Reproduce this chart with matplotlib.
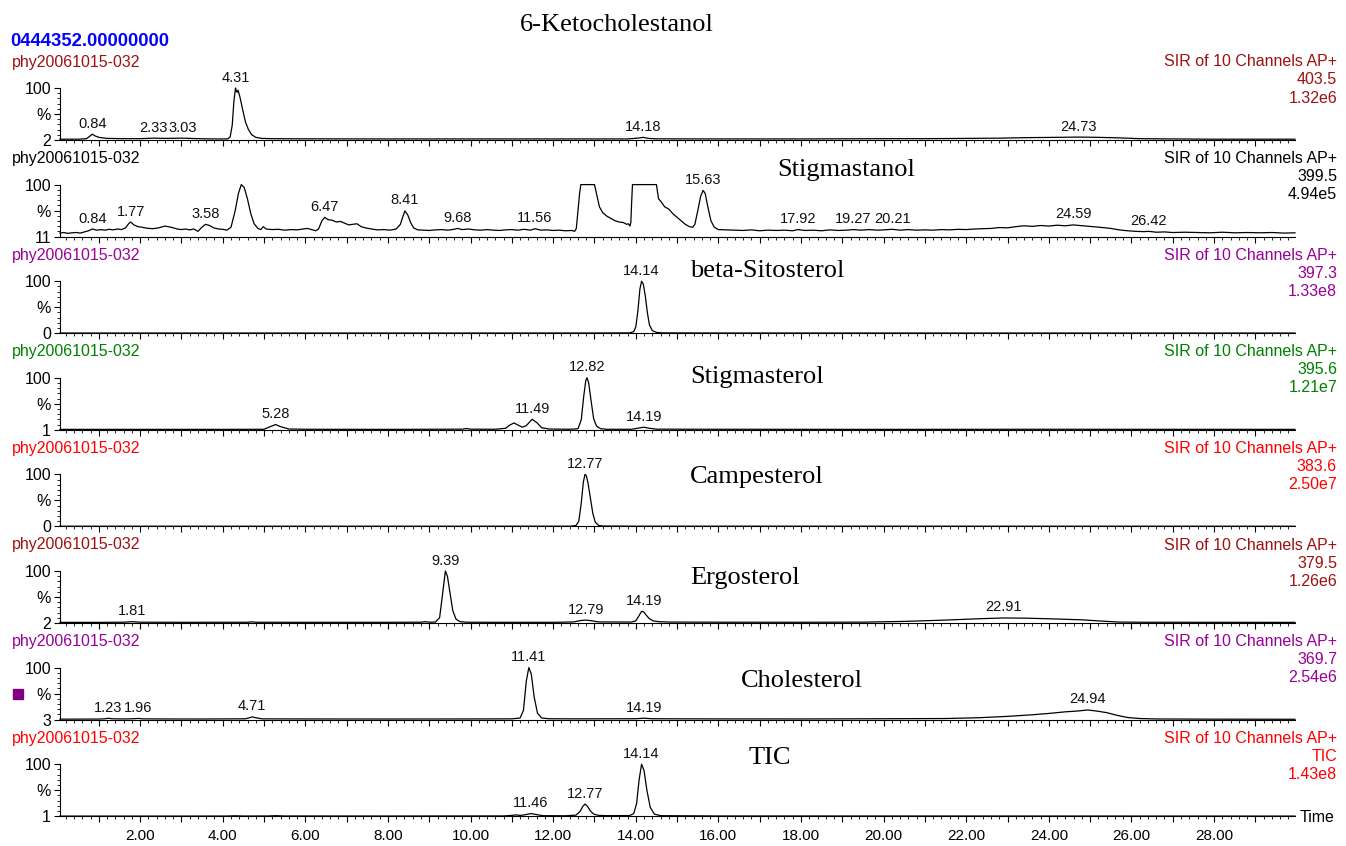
import numpy as np
import matplotlib.pyplot as plt
from matplotlib.ticker import MultipleLocator, FixedLocator, FuncFormatter
from matplotlib.patches import Rectangle

plt.rcParams['font.family'] = ['Liberation Sans', 'DejaVu Sans']

# panel info
compounds = ['6-Ketocholestanol', 'Stigmastanol', 'beta-Sitosterol', 'Stigmasterol',
             'Campesterol', 'Ergosterol', 'Cholesterol', 'TIC']
channels = ['403.5', '399.5', '397.3', '395.6', '383.6', '379.5', '369.7', 'TIC']
intensities = ['1.32e6', '4.94e5', '1.33e8', '1.21e7', '2.50e7', '1.26e6', '2.54e6', '1.43e8']
y_floor = [2, 11, 0, 1, 0, 2, 3, 1]
sample_name = 'phy20061015-032'
func_name = 'SIR of 10 Channels AP+'
header = '0444352.00000000'

# traces (time in min, relative intensity in %)
t1 = [0.06, 0.5, 0.7, 0.78, 0.84, 0.9, 1.0, 1.2, 1.6, 2.0, 2.33, 2.6, 3.03, 3.4, 3.8, 4.12,
      4.18, 4.23, 4.27, 4.31, 4.33, 4.35, 4.37, 4.42, 4.48, 4.55, 4.62, 4.7, 4.8, 4.95, 5.2,
      6.0, 8.0, 10.0, 12.0, 13.8, 14.05, 14.18, 14.3, 14.5, 16.0, 18.0, 20.0, 21.0, 22.0,
      22.8, 23.5, 24.2, 24.73, 25.2, 25.7, 26.2, 27.0, 28.0, 29.96]
v1 = [3.5, 3.5, 4.5, 9, 13, 10, 7, 5, 4.5, 4.5, 5.5, 5, 5.5, 4.5, 4, 4,
      8, 30, 75, 100, 94, 92, 96, 82, 60, 36, 22, 12, 7, 5, 4.5,
      4.2, 4, 4, 4, 4, 5.5, 7, 5, 4.2, 4, 4, 4.5, 4.5, 5,
      5.5, 6.5, 7, 7.5, 7, 6, 4.5, 4, 3.5, 3.5]

t2 = [0.06, 0.15, 0.25, 0.35, 0.45, 0.55, 0.65, 0.75, 0.84, 0.95, 1.05, 1.15, 1.25, 1.35,
      1.45, 1.55, 1.65, 1.72, 1.77, 1.85, 1.95, 2.05, 2.15, 2.3, 2.45, 2.6, 2.75, 2.9, 3.0,
      3.1, 3.2, 3.3, 3.4, 3.48, 3.58, 3.68, 3.78, 3.9, 4.0, 4.1, 4.2, 4.3, 4.38, 4.45, 4.52,
      4.6, 4.68, 4.76, 4.85, 4.92, 4.98, 5.05, 5.2, 5.35, 5.5, 5.65, 5.8, 5.95, 6.05, 6.15,
      6.25, 6.32, 6.4, 6.47, 6.55, 6.65, 6.75, 6.85, 6.95, 7.05, 7.15, 7.25, 7.35, 7.45,
      7.6, 7.75, 7.9, 8.05, 8.2, 8.3, 8.36, 8.41, 8.48, 8.55, 8.62, 8.72, 8.85, 9.0, 9.15,
      9.3, 9.45, 9.6, 9.68, 9.8, 9.95, 10.1, 10.25, 10.4, 10.55, 10.7, 10.85, 11.0, 11.15,
      11.3, 11.45, 11.56, 11.7, 11.85, 12.0, 12.15, 12.3, 12.45, 12.52, 12.56, 12.6, 12.64,
      12.67, 13.0, 13.05, 13.12, 13.2, 13.3, 13.4, 13.5, 13.6, 13.7, 13.78, 13.82, 13.86,
      13.88, 13.9, 13.92, 14.5, 14.55, 14.62, 14.7, 14.8, 14.9, 15.0, 15.1, 15.2, 15.3,
      15.38, 15.43, 15.5, 15.57, 15.63, 15.68, 15.75, 15.82, 15.9, 16.0, 16.2, 16.4, 16.6,
      16.8, 17.0, 17.2, 17.4, 17.6, 17.8, 17.92, 18.1, 18.3, 18.5, 18.7, 18.9, 19.1, 19.27,
      19.45, 19.65, 19.85, 20.0, 20.21, 20.4, 20.6, 20.8, 21.0, 21.2, 21.4, 21.6, 21.8,
      22.0, 22.2, 22.4, 22.6, 22.8, 23.0, 23.2, 23.4, 23.6, 23.8, 24.0, 24.2, 24.4, 24.59,
      24.75, 24.9, 25.1, 25.3, 25.5, 25.7, 25.9, 26.1, 26.3, 26.42, 26.6, 26.8, 27.0, 27.3,
      27.6, 27.9, 28.2, 28.5, 28.8, 29.1, 29.4, 29.7, 29.96]
v2 = [17, 18, 16.5, 17.5, 18, 17, 19, 21, 24, 22, 23, 22, 23.5, 22.5,
      24, 23, 26, 33, 36, 31, 28, 27, 25.5, 24.5, 26, 29, 27, 24, 23,
      24, 22.5, 24, 20, 26, 32, 30, 26, 24, 23.5, 22, 27, 55, 85, 100, 95,
      75, 50, 33, 25, 23, 28, 24, 23, 23.5, 22, 23, 22.5, 24, 25, 23,
      21, 24, 38, 44, 40, 39, 36, 37, 34, 31, 32, 33, 28, 26,
      24, 22.5, 23, 22, 24, 32, 45, 55, 48, 35, 26, 22.5, 22, 21.5, 22.5,
      23, 22, 23.5, 25, 23, 24, 22.5, 22, 23, 22, 21.5, 22.5, 23, 22,
      23.5, 22, 24.5, 22, 22.5, 21.5, 22, 21, 21.5, 20, 25, 55, 85,
      100, 100, 84, 62, 52, 46, 42, 38, 36, 35, 32, 33, 29,
      35, 70, 100, 100, 76, 70, 62, 58, 50, 44, 38, 32, 28,
      27, 32, 55, 80, 90, 85, 60, 38, 27, 23, 22.5, 22, 21.5,
      22.5, 21, 22, 21.5, 22, 21, 23, 21.5, 22, 21, 22.5, 21.5, 22, 23,
      22, 23, 22, 22.5, 23.5, 22, 23, 22, 22.5, 22, 23, 22.5, 23.5,
      23, 24, 24.5, 25, 26.5, 26, 28, 29.5, 28.5, 30, 29, 30.5, 29.5, 31,
      30, 29, 28, 26.5, 25, 22.5, 21, 20, 19.5, 20, 18.5, 19, 18, 18.5,
      18, 17.5, 18.5, 17.5, 18, 17.5, 18, 17, 17.5]

t3 = [0.06, 5, 10, 13.0, 13.85, 13.95, 14.0, 14.05, 14.1, 14.14, 14.18, 14.23, 14.28, 14.33,
      14.4, 14.5, 14.65, 16, 22, 29.96]
v3 = [0.3, 0.3, 0.3, 0.4, 0.6, 3, 12, 42, 85, 100, 95, 72, 40, 16,
      5, 1.5, 0.6, 0.4, 0.3, 0.3]

t4 = [0.06, 2, 4, 5.0, 5.15, 5.28, 5.4, 5.6, 6, 8, 9.8, 9.9, 10.0, 10.6, 10.85, 10.95, 11.05,
      11.15, 11.25, 11.35, 11.49, 11.6, 11.72, 11.9, 12.4, 12.6, 12.68, 12.74, 12.79, 12.82,
      12.86, 12.92, 12.98, 13.05, 13.15, 13.3, 13.9, 14.05, 14.19, 14.32, 14.5, 16, 20, 24, 29.96]
v4 = [1.8, 1.8, 1.8, 2, 7, 11, 7, 2.5, 2, 1.8, 2.2, 3.5, 2.2, 2, 4, 10, 14,
      10, 6, 9, 21, 15, 5, 2.5, 2, 3, 20, 65, 95, 100,
      90, 55, 22, 8, 3, 2, 2, 4, 6, 4, 2.2, 2, 1.8, 2, 1.8]

t5 = [0.06, 8, 12.4, 12.55, 12.62, 12.68, 12.73, 12.77, 12.8, 12.84, 12.9, 12.96, 13.02, 13.1,
      13.2, 14, 29.96]
v5 = [0.3, 0.3, 0.4, 1.5, 10, 45, 85, 100, 98, 85, 55, 25, 8, 2,
      0.7, 0.4, 0.3]

t6 = [0.06, 1.0, 1.6, 1.81, 2.0, 3.0, 4.6, 4.7, 4.8, 6, 8.0, 8.8, 8.9, 9.0, 9.15, 9.25, 9.32,
      9.39, 9.44, 9.5, 9.57, 9.65, 9.75, 9.9, 10.5, 12.0, 12.5, 12.65, 12.79, 12.95, 13.1, 13.9,
      14.0, 14.08, 14.14, 14.19, 14.25, 14.33, 14.42, 14.55, 14.8, 16, 18, 19.5, 20.5, 21.5,
      22.3, 22.91, 23.5, 24.2, 24.8, 25.3, 25.7, 26.3, 28, 29.96]
v6 = [3.2, 3.2, 3.5, 4.5, 3.5, 3.3, 3.4, 4.2, 3.4, 3.3, 3.3, 3.5, 4.5, 3.5, 3.8, 12, 55,
      100, 90, 60, 25, 9, 4.5, 3.5, 3.3, 3.3, 4, 6.5, 7.5, 6, 4, 3.8,
      6, 16, 24, 23, 17, 10, 6, 4.5, 3.8, 3.5, 3.4, 3.6, 5, 7.5,
      10, 11.5, 11, 9.5, 8, 5.5, 3.8, 3.4, 3.3, 3.2]

t7 = [0.06, 1.0, 1.15, 1.23, 1.32, 1.6, 1.85, 1.96, 2.05, 2.5, 3.5, 4.55, 4.65, 4.71, 4.8,
      4.95, 6, 8, 10, 11.0, 11.2, 11.28, 11.35, 11.41, 11.47, 11.54, 11.62, 11.72, 11.9, 12.5,
      14.0, 14.19, 14.4, 16, 18, 20, 21.5, 22.3, 23.0, 23.6, 24.0, 24.4, 24.7, 24.94, 25.15,
      25.4, 25.65, 25.9, 26.2, 26.6, 28, 29.96]
v7 = [3.8, 4, 4.5, 5.5, 4.5, 4.2, 4.6, 5.2, 4.4, 4.2, 4.1, 4.5, 6.5, 8, 6.5,
      4.4, 4.2, 4.1, 4.2, 4.4, 6, 20, 75, 100, 88, 45, 15, 6, 4.6, 4.4,
      4.6, 5.6, 4.6, 4.3, 4.2, 4.6, 5, 6.5, 9, 12, 14.5, 17.5, 19, 21, 19,
      16, 11, 7, 5, 4.2, 3.8, 3.6]

t8 = [0.06, 3, 4.1, 4.3, 4.5, 5.1, 5.28, 5.5, 8, 10.8, 11.0, 11.1, 11.2, 11.3, 11.46, 11.6,
      11.75, 12.3, 12.55, 12.65, 12.72, 12.77, 12.83, 12.9, 12.98, 13.1, 13.3, 13.85, 13.95,
      14.02, 14.08, 14.14, 14.2, 14.27, 14.35, 14.45, 14.6, 16, 29.96]
v8 = [1.2, 1.2, 1.3, 1.8, 1.3, 1.4, 2, 1.4, 1.3, 1.5, 2.5, 3.5, 2.5, 3.5, 6, 4,
      2, 1.8, 3, 10, 20, 24, 20, 11, 5, 2.5, 2, 2.2, 6,
      25, 70, 100, 88, 50, 18, 5, 2, 1.4, 1.2]

# labelled retention times
peaks1 = [0.84, 2.33, 3.03, 4.31, 14.18, 24.73]
peaks2 = [0.84, 1.77, 3.58, 6.47, 8.41, 9.68, 11.56, 15.63, 17.92, 19.27, 20.21, 24.59, 26.42]
peaks3 = [14.14]
peaks4 = [5.28, 11.49, 12.82, 14.19]
peaks5 = [12.77]
peaks6 = [1.81, 9.39, 12.79, 14.19, 22.91]
peaks7 = [1.23, 1.96, 4.71, 11.41, 14.19, 24.94]
peaks8 = [11.46, 12.77, 14.14]

times = [t1, t2, t3, t4, t5, t6, t7, t8]
values = [v1, v2, v3, v4, v5, v6, v7, v8]
peaks = [peaks1, peaks2, peaks3, peaks4, peaks5, peaks6, peaks7, peaks8]

# layout (pixels)
W, H = 1346, 846
colors = ['#9e1010', 'black', '#990099', '#008000', '#ff0000', '#9e1010', '#990099', '#ff0000']
title_pos = [(617, 25), (846, 170), (767, 271), (757, 377), (757, 477), (745, 578), (802, 681), (770, 758)]
ax_left, ax_right = 60, 1295
ax_top0, ax_step, ax_h = 88, 96.6, 52


def fx(px):
    return px / W


def fy(py):
    return 1 - py / H


fig = plt.figure(figsize=(W / 100, H / 100), dpi=100)

fig.text(fx(10), fy(42), header, color='#0000ff', fontsize=13.3, fontweight='bold',
         ha='left', va='center')

for i in range(8):
    top = ax_top0 + i * ax_step
    ax = fig.add_axes([fx(ax_left), fy(top + ax_h), fx(ax_right) - fx(ax_left), ax_h / H])
    t = np.array(times[i])
    v = np.array(values[i])
    lo = y_floor[i]
    ax.plot(t, v, color='black', lw=0.9, clip_on=False)
    ax.set_xlim(0.06, 29.96)
    ax.set_ylim(lo, 100)
    ax.patch.set_alpha(0)
    for s in ['top', 'right']:
        ax.spines[s].set_visible(False)
    for s in ['left', 'bottom']:
        ax.spines[s].set_linewidth(0.8)

    ax.yaxis.set_major_locator(FixedLocator([lo, (lo + 100) / 2, 100]))
    ax.set_yticklabels([str(lo), '%', '100'])
    ax.yaxis.set_minor_locator(FixedLocator(np.linspace(lo, 100, 11)))
    ax.tick_params(axis='y', which='major', length=4.5, width=0.8, labelsize=11.5, pad=2)
    ax.tick_params(axis='y', which='minor', length=2, width=0.6)

    ax.xaxis.set_major_locator(MultipleLocator(1))
    ax.xaxis.set_minor_locator(MultipleLocator(0.2))
    ax.tick_params(axis='x', which='major', length=4.5, width=0.8, labelsize=11, pad=5)
    ax.tick_params(axis='x', which='minor', length=2, width=0.6)
    if i == 7:
        ax.xaxis.set_major_formatter(FuncFormatter(
            lambda x, p: '%.2f' % x if round(x) % 2 == 0 else ''))
    else:
        ax.set_xticklabels([])

    for rt in peaks[i]:
        m = (t >= rt - 0.1) & (t <= rt + 0.1)
        ytop = v[m].max() if m.any() else np.interp(rt, t, v)
        ax.annotate('%.2f' % rt, (rt, ytop), xytext=(0, 2.5), textcoords='offset points',
                    ha='center', va='bottom', fontsize=10.5, color='#111111',
                    annotation_clip=False)

    c = colors[i]
    fig.text(fx(12), fy(top - 26), sample_name, color=c, fontsize=11.5, ha='left', va='center')
    fig.text(fx(1337), fy(top - 26), func_name, color=c, fontsize=11.5, ha='right', va='center')
    fig.text(fx(1337), fy(top - 8), channels[i], color=c, fontsize=11.5, ha='right', va='center')
    fig.text(fx(1337), fy(top + 10), intensities[i], color=c, fontsize=11.5, ha='right', va='center')
    tx, ty = title_pos[i]
    fig.text(fx(tx), fy(ty), compounds[i], family='Liberation Serif', fontsize=19,
             ha='center', va='center')

fig.text(fx(1300), fy(817), 'Time', fontsize=11.5, ha='left', va='center')
fig.add_artist(Rectangle((fx(13), fy(699)), 10 / W, 10 / H, transform=fig.transFigure,
                         color='#800080'))

fig.savefig('out.png', dpi=100)
